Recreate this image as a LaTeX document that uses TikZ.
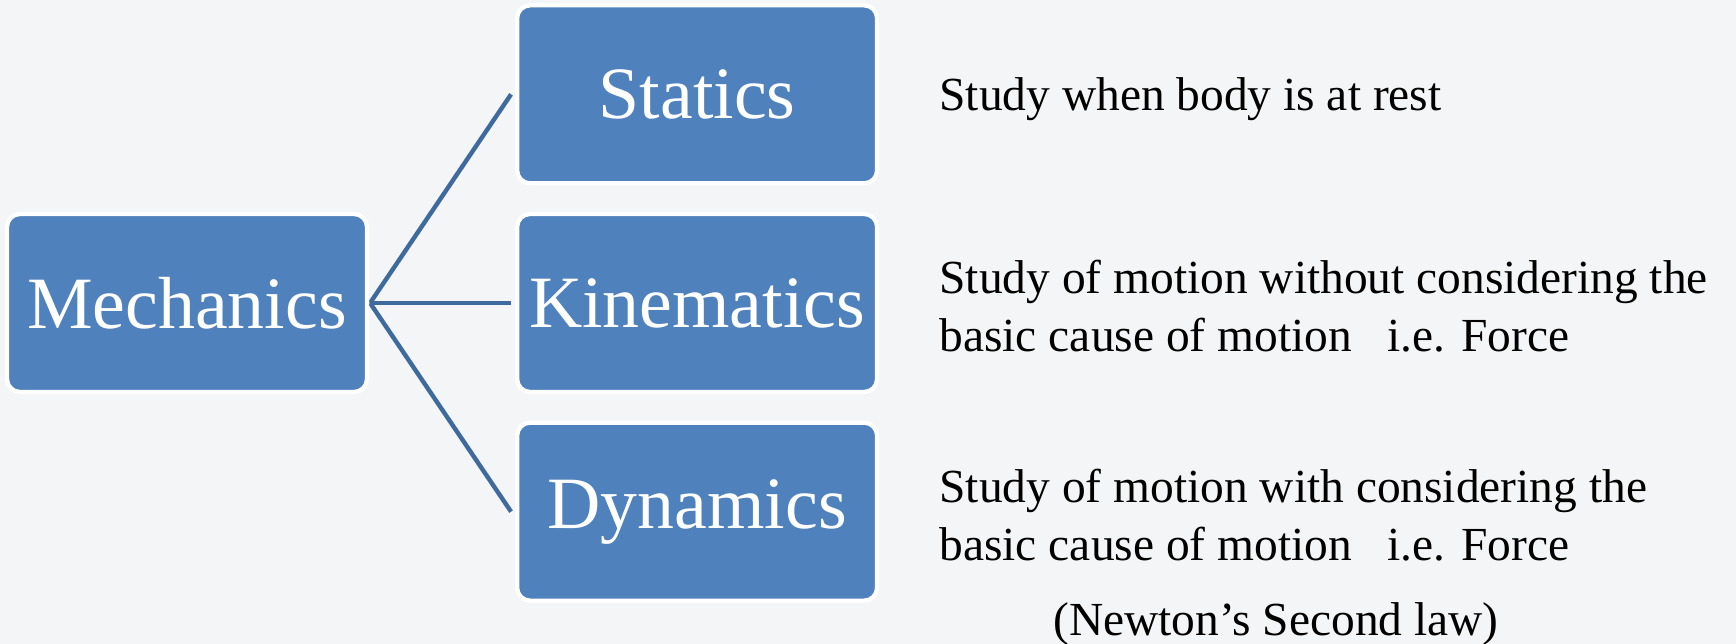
\documentclass[tikz,border=0pt]{standalone}
\usepackage{fontspec}
\setmainfont{Liberation Serif}
\usepackage{xcolor}
\definecolor{BoxBlue}{RGB}{79,129,189}
\definecolor{LineBlue}{RGB}{62,106,158}
\definecolor{BackGray}{RGB}{244,245,246}
\usepackage{tikz}
\usetikzlibrary{positioning, backgrounds}
\tikzset{
  % Blue topic box
  topicbox/.style={
    rectangle, rounded corners=0.26cm,
    draw=white, line width=2.4pt,
    fill=BoxBlue, text=white,
    minimum width=7.2cm, minimum height=3.56cm,
    font=\fontsize{42}{50}\selectfont,
    inner sep=2pt
  },
  % Description text
  desc/.style={
    align=left, inner sep=0pt, anchor=west,
    font=\fontsize{27}{33}\selectfont
  },
  % Connectors
  link/.style={draw=LineBlue, line width=2.5pt},
}

\begin{document}
\begin{tikzpicture}[x=0.02cm, y=-0.02cm]

  \useasboundingbox (0,0) rectangle (1736,644);

  %% Boxes
  \node[topicbox] (mech) at (187,303) {Mechanics};
  \node[topicbox, right=2.92cm of mech] (kin) {Kinematics};
  \node[topicbox, above=0.53cm of kin] (stat) {Statics};
  \node[topicbox, below=0.53cm of kin] (dyn) {Dynamics};

  %% Descriptions
  \node[desc, right=1.2cm of stat, yshift=-0.1cm] (sdesc) {Study when body is at rest};
  \node[desc, right=1.2cm of kin, yshift=-0.06cm] (kdesc)
    {Study of motion without considering the\\basic cause of motion\ \ \ i.e. Force};
  \node[desc, right=1.2cm of dyn, yshift=-0.06cm] (ddesc)
    {Study of motion with considering the\\basic cause of motion\ \ \ i.e. Force};
  \node[desc, anchor=center] (newton) at (1276,624) {(Newton’s Second law)};

  %% Connectors + background
  \begin{pgfonlayer}{background}
    \fill[BackGray] (0,0) rectangle (1736,644);
    \coordinate (hub) at ([xshift=0.02cm]mech.east);
    \draw[link] (hub) -- ([xshift=-0.08cm]stat.west);
    \draw[link] (hub) -- ([xshift=-0.08cm]kin.west);
    \draw[link] (hub) -- ([xshift=-0.08cm]dyn.west);
  \end{pgfonlayer}

\end{tikzpicture}
\end{document}
